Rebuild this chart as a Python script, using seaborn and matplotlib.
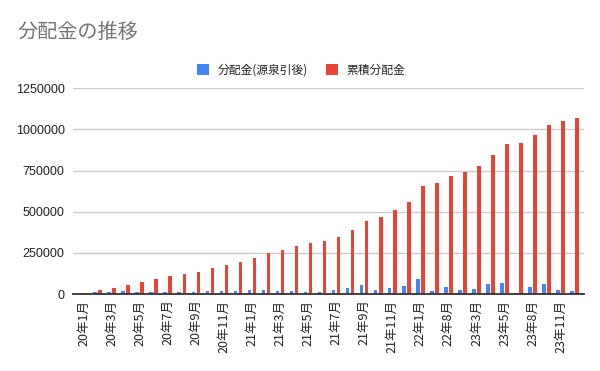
import numpy as np
import pandas as pd
import matplotlib
matplotlib.use("Agg")
import matplotlib.pyplot as plt
import seaborn as sns

# ── Data ──────────────────────────────────────────────────────────────────────
MONTHS = [
    "20年1月", "20年2月", "20年3月", "20年4月", "20年5月", "20年6月",
    "20年7月", "20年8月", "20年9月", "20年10月", "20年11月", "20年12月",
    "21年1月", "21年2月", "21年3月", "21年4月", "21年5月", "21年6月",
    "21年7月", "21年8月", "21年9月", "21年10月", "21年11月", "21年12月",
    "22年1月", "22年4月", "22年8月", "22年11月", "23年3月", "23年4月",
    "23年5月", "23年6月", "23年8月", "23年9月", "23年11月", "23年12月",
]
DIVIDEND = [
    6000, 12000, 12000, 18000, 12000, 12000, 12000, 12000, 12000, 18000,
    18000, 18000, 24000, 24000, 18000, 18000, 12000, 12000, 22000, 34600,
    53000, 22000, 34600, 46800, 89500, 16000, 40700, 22000, 28500, 59000,
    65000, 6000, 40700, 59000, 22000, 16000,
]
CUMULATIVE = [
    6000, 22000, 36600, 55000, 73000, 91500, 108000, 122000, 134000, 158600,
    177000, 195000, 219600, 248000, 268000, 293000, 311000, 323000, 345600, 388000,
    443000, 469600, 510000, 559000, 656600, 675000, 717600, 742000, 778600, 845700,
    912800, 919000, 967700, 1028700, 1053000, 1071400,
]
SERIES = ["分配金(源泉引後)", "累積分配金"]
Y_TICKS = [0, 250000, 500000, 750000, 1000000, 1250000]

BLUE = "#4285F4"
RED = "#EA4335"

sns.set_theme(style="white")
plt.rcParams["font.family"] = ["Noto Sans CJK JP", "DejaVu Sans"]

df = pd.DataFrame({
    "月": MONTHS * 2,
    "金額": DIVIDEND + CUMULATIVE,
    "系列": [SERIES[0]] * len(MONTHS) + [SERIES[1]] * len(MONTHS),
})

fig = plt.figure(figsize=(6, 3.71), dpi=100)
ax = fig.add_axes([0.1217, 0.2075, 0.8513, 0.5545])

sns.barplot(data=df, x="月", y="金額", hue="系列", hue_order=SERIES,
            palette=[BLUE, RED], width=0.72, gap=0.3, saturation=1,
            linewidth=0, ax=ax, order=MONTHS)

ax.set_xlim(-0.75, len(MONTHS) - 0.35)
ax.set_ylim(0, 1250000)
ax.set_yticks(Y_TICKS)
ax.set_yticklabels([str(v) for v in Y_TICKS], fontsize=9, color="#222222",
                   family=["Liberation Sans", "DejaVu Sans"])
ax.yaxis.grid(True, color="#cccccc", linewidth=1)
ax.set_axisbelow(True)

pos = np.arange(0, len(MONTHS), 2)
ax.set_xticks(pos)
ax.set_xticklabels([MONTHS[i] for i in pos], rotation=90, fontsize=9,
                   color="#222222", va="top", ha="center")
ax.tick_params(axis="both", length=0)
ax.tick_params(axis="x", pad=4)
ax.tick_params(axis="y", pad=6)
ax.set_xlabel("")
ax.set_ylabel("")

for side in ["top", "right", "left"]:
    ax.spines[side].set_visible(False)
ax.spines["bottom"].set_color("#333333")
ax.spines["bottom"].set_linewidth(1.3)

leg = ax.get_legend()
handles = leg.legend_handles
leg.remove()
fig.legend(handles, SERIES, loc="center", bbox_to_anchor=(0.502, 0.811),
           bbox_transform=fig.transFigure, ncol=2, frameon=False,
           fontsize=8.5, handlelength=1.0, handleheight=1.0,
           handletextpad=0.75, columnspacing=1.5)

fig.text(0.03, 0.913, "分配金の推移", fontsize=14.5, color="#757575",
         ha="left", va="center")

fig.savefig("out.png", dpi=100)
